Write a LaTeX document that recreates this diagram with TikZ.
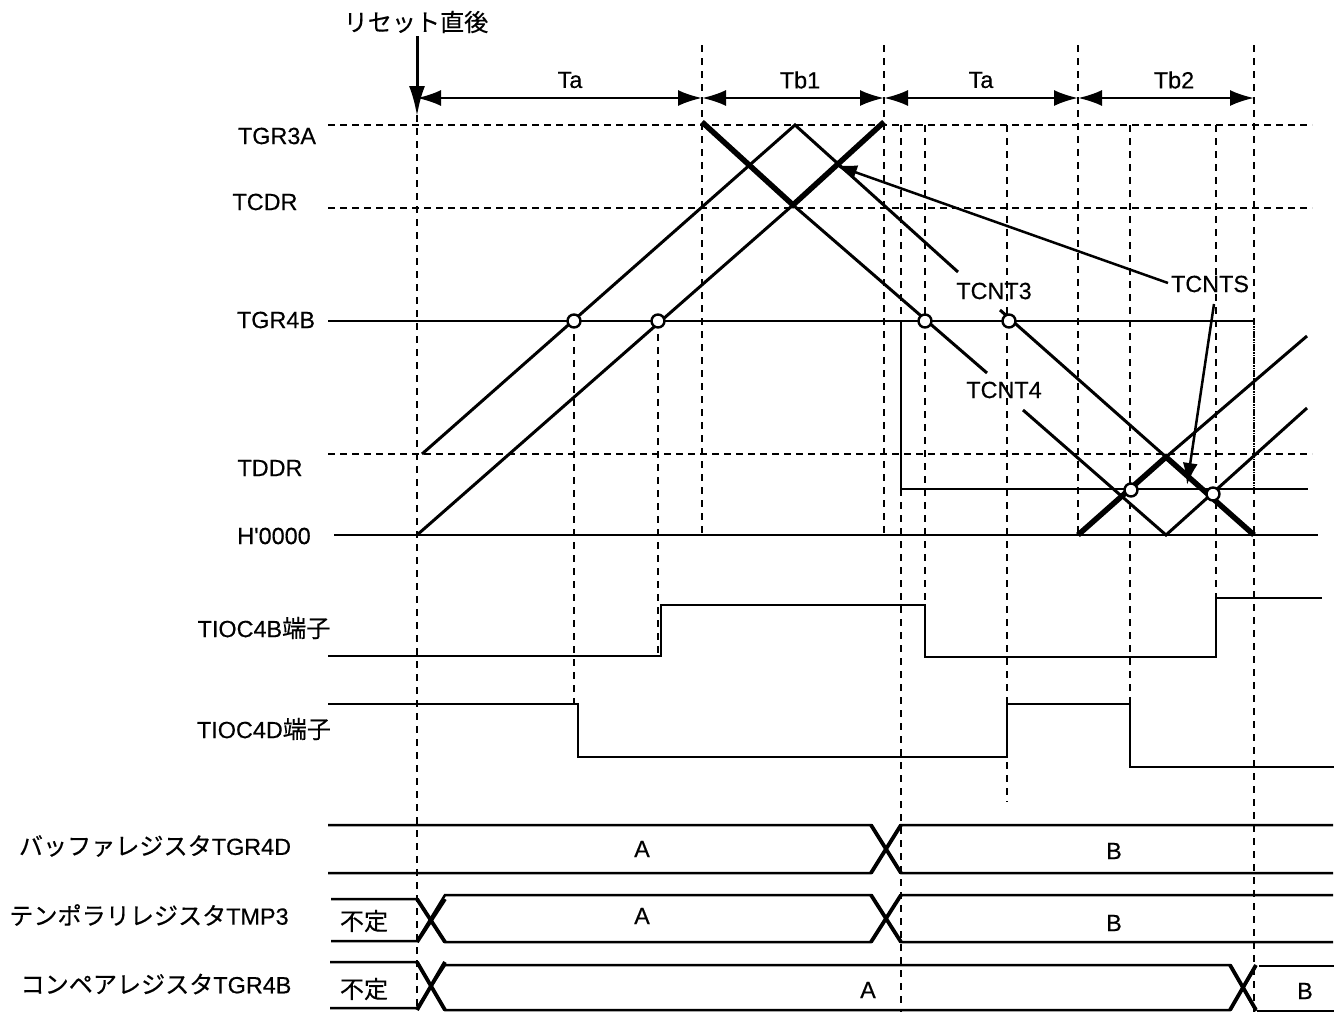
\documentclass[tikz,border=0pt]{standalone}
\usepackage{fontspec}
\setmainfont{Liberation Sans}[FakeBold=0.35]
\newfontfamily\cjk{Noto Sans CJK JP}[Scale=1.03,FakeBold=0.35]
\usetikzlibrary{arrows.meta}
\newcommand{\lbl}{\fontsize{23.4}{25}\selectfont}
\begin{document}
\begin{tikzpicture}[
  x=1pt,y=-1pt,
  lab/.style={inner sep=0pt,font=\lbl},
  guide/.style={line width=2.4pt,dash pattern=on 7pt off 6pt},
  level/.style={line width=1.5pt,dash pattern=on 7pt off 5pt},
  wave/.style={line width=2.5pt},
  thinw/.style={line width=1.6pt},
  ramp/.style={line width=3pt},
  rampb/.style={line width=5.5pt},
  cross/.style={line width=3.8pt},
  pointer/.style={-{Latex[length=22pt,width=15pt]},line width=2.5pt},
  span/.style={{Latex[length=24pt,width=16pt]}-{Latex[length=24pt,width=16pt]},line width=2.5pt},
  hit/.style={circle,draw,fill=white,line width=2.4pt,inner sep=0pt,minimum size=13pt}
]
\useasboundingbox (0,0) rectangle (1339,1012);
% time marks on the top row
\coordinate (a0) at (417,98);
\coordinate (a1) at (702,98);
\coordinate (a2) at (884,98);
\coordinate (a3) at (1078,98);
\coordinate (a4) at (1254,98);
% dashed guides
\foreach \gx/\gtop/\gbot in {417/115/1012,702/45/535,884/45/535,901/125/1012,925/125/656,
    1007/125/802,1078/45/535,1130/125/767,1216/125/600,1254/45/1012,574/321/704,658/321/656}
  \draw[guide] (\gx,\gtop) -- (\gx,\gbot);
\foreach \gy in {125,208,454}
  \draw[level] (328,\gy) -- (1312,\gy);
% levels
\coordinate (g0) at (328,321);
\coordinate (g1) at (925,321);
\coordinate (g2) at (1254,321);
\coordinate (g3) at (1254,489);
\coordinate (d0) at (901,321);
\coordinate (d1) at (901,489);
\coordinate (d2) at (1308,489);
\coordinate (z0) at (334,535);
\coordinate (z1) at (1318,535);
\draw[wave] (g0) -- (g1);
\draw[thinw] (g1) -- (g2);
\draw[thinw,densely dotted] (g2) -- (g3);
\draw[wave] (d0) -- (d1) -- (d2);
\draw[wave] (z0) -- (z1);
% counters
\coordinate (p0) at (422,454);
\coordinate (p1) at (795,125);
\coordinate (p2) at (958,272);
\coordinate (p3) at (1000,310);
\coordinate (p4) at (1166,457);
\coordinate (p5) at (1254,535);
\coordinate (q0) at (417,535);
\coordinate (q1) at (793,205);
\coordinate (q2) at (987,373);
\coordinate (q3) at (1023,410);
\coordinate (q4) at (1166,535);
\coordinate (q5) at (1307,408);
\coordinate (s0) at (702,122);
\coordinate (s1) at (884,122);
\coordinate (s2) at (1078,535);
\coordinate (s3) at (1307,336);
\draw[ramp] (p0) -- (p1) -- (p2);
\draw[ramp] (p3) -- (p4);
\draw[ramp] (q0) -- (q1) -- (q2);
\draw[ramp] (q3) -- (q4) -- (q5);
\draw[ramp] (p4) -- (s3);
\draw[rampb] (s0) -- (q1) -- (s1);
\draw[rampb] (s2) -- (p4) -- (p5);
% compare match points
\foreach \hname/\hx/\hy in {h1/574/321,h2/658/321,h3/925/321,h4/1009/321,h5/1131/490,h6/1213/494}
  \node[hit] (\hname) at (\hx,\hy) {};
% top row
\node[lab] (reset) at (416,22) {\cjk リセット直後};
\coordinate (r0) at (417,36);
\coordinate (r1) at (417,116);
\draw[-{Latex[length=30pt,width=16pt]},line width=3pt] (r0) -- (r1);
\draw[span] (a0) -- (a1);
\draw[span] (a1) -- (a2);
\draw[span] (a2) -- (a3);
\draw[span] (a3) -- (a4);
\node[lab] (ta1) at (570,80) {Ta};
\node[lab] (tb1) at (800,80) {Tb1};
\node[lab] (ta2) at (981,80) {Ta};
\node[lab] (tb2) at (1174,80) {Tb2};
% level names
\node[lab] (tgr3a) at (277,136) {TGR3A};
\node[lab] (tcdr) at (265,202) {TCDR};
\node[lab] (tgr4b) at (276,320) {TGR4B};
\node[lab] (tddr) at (270,468) {TDDR};
\node[lab] (hzero) at (274,536) {H\textquotesingle 0000};
% counter names
\node[lab] (tcnt3) at (994,291) {TCNT3};
\node[lab] (tcnt4) at (1004,390) {TCNT4};
\node[lab] (tcnts) at (1210,284) {TCNTS};
\coordinate (w1) at (1168,283);
\coordinate (w2) at (835,165);
\coordinate (w3) at (1214,304);
\coordinate (w4) at (1187,485);
\draw[pointer] (w1) -- (w2);
\draw[pointer] (w3) -- (w4);
% output pins
\node[lab] (pinb) at (264,628) {TIOC4B{\cjk 端子}};
\node[lab] (pind) at (264,729) {TIOC4D{\cjk 端子}};
\draw[wave] (328,656) -- (661,656) -- (661,605) -- (925,605) -- (925,657) -- (1216,657) -- (1216,598) -- (1322,598);
\draw[wave] (328,704) -- (578,704) -- (578,757) -- (1007,757) -- (1007,704) -- (1130,704) -- (1130,767) -- (1334,767);
% registers
\node[lab] (buf) at (155,846) {{\cjk バッファレジスタ}TGR4D};
\node[lab] (tmp) at (149,915) {{\cjk テンポラリレジスタ}TMP3};
\node[lab] (cmp) at (156,984) {{\cjk コンペアレジスタ}TGR4B};
\draw[wave] (328,825) -- (871,825) -- (901,873) -- (1333,873);
\draw[wave] (328,873) -- (871,873) -- (901,825) -- (1333,825);
\draw[wave] (331,899) -- (417,899) -- (445,942) -- (871,942) -- (901,895) -- (1333,895);
\draw[wave] (331,941) -- (417,941) -- (445,895) -- (871,895) -- (901,942) -- (1333,942);
\draw[wave] (330,962) -- (417,962) -- (445,1010) -- (1230,1010) -- (1256,966);
\draw[wave] (330,1008) -- (417,1008) -- (445,965) -- (1230,965) -- (1256,1011);
\draw[wave] (1259,966) -- (1334,966);
\draw[thinw] (1257,1011) -- (1334,1011);
% heavier strokes on the changeovers
\foreach \xl/\xr/\yt/\yb in {871/901/825/873,417/445/899/942,871/901/895/942,417/445/962/1010,1230/1256/965/1010} {
  \draw[cross] (\xl,\yt) -- (\xr,\yb);
  \draw[cross] (\xl,\yb) -- (\xr,\yt);
}
\node[lab] (und1) at (364,921) {\cjk 不定};
\node[lab] (und2) at (364,989) {\cjk 不定};
\node[lab] (va1) at (642,849) {A};
\node[lab] (vb1) at (1114,851) {B};
\node[lab] (va2) at (642,916) {A};
\node[lab] (vb2) at (1114,923) {B};
\node[lab] (va3) at (868,990) {A};
\node[lab] (vb3) at (1305,991) {B};
\end{tikzpicture}
\end{document}
